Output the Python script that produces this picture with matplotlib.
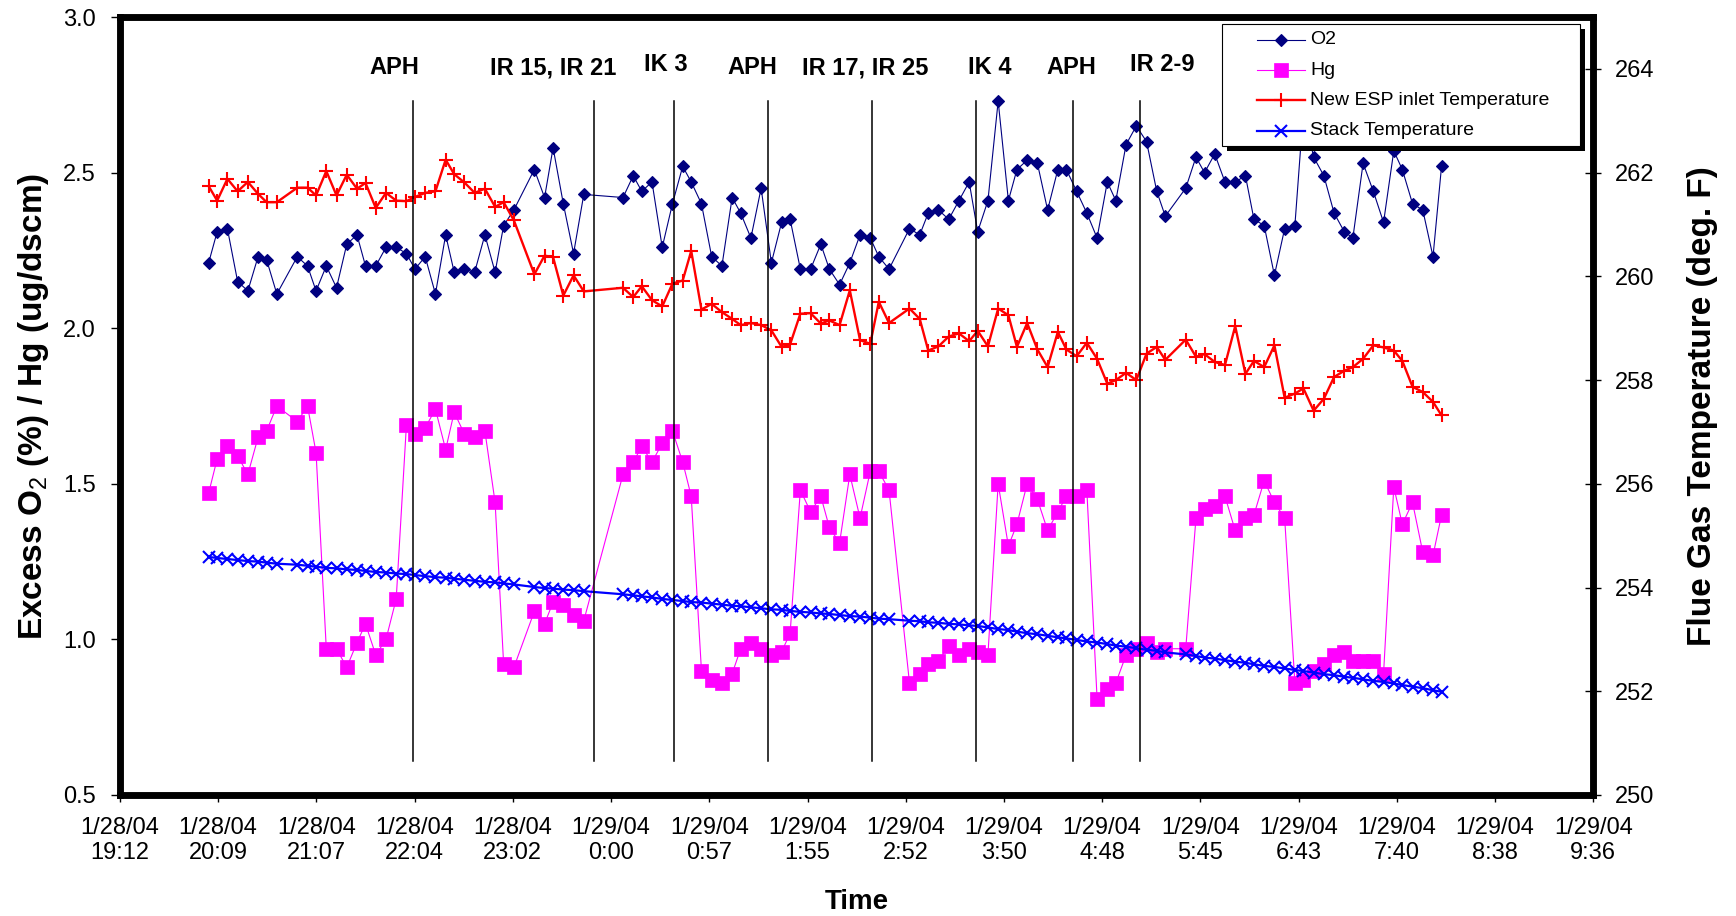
import matplotlib
matplotlib.use("Agg")
import matplotlib.pyplot as plt
from matplotlib.lines import Line2D
from matplotlib.patches import Rectangle
import pandas as pd
from datetime import datetime

plt.rcParams["font.family"] = ["Liberation Sans", "DejaVu Sans"]
plt.rcParams["mathtext.fontset"] = "custom"
plt.rcParams["mathtext.rm"] = "Liberation Sans"

# sample clock times (evening = 1/28/04, after midnight = 1/29/04)
sample_times = [
    "20:04", "20:09", "20:15", "20:21", "20:27", "20:33", "20:38", "20:44",
    "20:56", "21:02", "21:07", "21:13", "21:19", "21:25", "21:31", "21:36",
    "21:42", "21:48", "21:54", "22:00", "22:05", "22:11", "22:17", "22:23",
    "22:28", "22:34", "22:40", "22:46", "22:52", "22:57", "23:03",
    "23:15", "23:21", "23:26", "23:32", "23:38", "23:44",
    "0:07", "0:13", "0:18", "0:24", "0:30", "0:36", "0:42", "0:47", "0:53",
    "0:59", "1:05", "1:11", "1:16", "1:22", "1:28", "1:34", "1:40", "1:45",
    "1:51", "1:57", "2:03", "2:08", "2:14", "2:20", "2:26", "2:32", "2:37",
    "2:43",
    "2:55", "3:01", "3:06", "3:12", "3:18", "3:24", "3:30", "3:35", "3:41",
    "3:47", "3:53", "3:58", "4:04", "4:10", "4:16", "4:22", "4:27", "4:33",
    "4:39", "4:45", "4:51", "4:56", "5:02", "5:08", "5:14", "5:20", "5:25",
    "5:37", "5:43", "5:48", "5:54", "6:00", "6:06", "6:12", "6:17", "6:23",
    "6:29", "6:35", "6:41", "6:46", "6:52", "6:58", "7:04", "7:10", "7:15",
    "7:21", "7:27", "7:33", "7:39", "7:44", "7:50", "7:56", "8:02", "8:07",
]

o2 = [
    2.21, 2.31, 2.32, 2.15, 2.12, 2.23, 2.22, 2.11,
    2.23, 2.20, 2.12, 2.20, 2.13, 2.27, 2.30, 2.20, 2.20, 2.26, 2.26, 2.24,
    2.19, 2.23, 2.11, 2.30, 2.18, 2.19, 2.18, 2.30, 2.18, 2.33, 2.38,
    2.51, 2.42, 2.58, 2.40, 2.24, 2.43,
    2.42, 2.49, 2.44, 2.47, 2.26, 2.40, 2.52, 2.47, 2.40, 2.23, 2.20, 2.42,
    2.37, 2.29, 2.45, 2.21, 2.34, 2.35, 2.19, 2.19, 2.27, 2.19, 2.14, 2.21,
    2.30, 2.29, 2.23, 2.19,
    2.32, 2.30, 2.37, 2.38, 2.35, 2.41, 2.47, 2.31, 2.41, 2.73, 2.41, 2.51,
    2.54, 2.53, 2.38, 2.51, 2.51, 2.44, 2.37, 2.29, 2.47, 2.41, 2.59, 2.65,
    2.60, 2.44, 2.36,
    2.45, 2.55, 2.50, 2.56, 2.47, 2.47, 2.49, 2.35, 2.33, 2.17, 2.32, 2.33,
    2.70, 2.55, 2.49, 2.37, 2.31, 2.29, 2.53, 2.44, 2.34, 2.57, 2.51, 2.40,
    2.38, 2.23, 2.52,
]

hg = [
    1.47, 1.58, 1.62, 1.59, 1.53, 1.65, 1.67, 1.75,
    1.70, 1.75, 1.60, 0.97, 0.97, 0.91, 0.99, 1.05, 0.95, 1.00, 1.13, 1.69,
    1.66, 1.68, 1.74, 1.61, 1.73, 1.66, 1.65, 1.67, 1.44, 0.92, 0.91,
    1.09, 1.05, 1.12, 1.11, 1.08, 1.06,
    1.53, 1.57, 1.62, 1.57, 1.63, 1.67, 1.57, 1.46, 0.90, 0.87, 0.86, 0.89,
    0.97, 0.99, 0.97, 0.95, 0.96, 1.02, 1.48, 1.41, 1.46, 1.36, 1.31, 1.53,
    1.39, 1.54, 1.54, 1.48,
    0.86, 0.89, 0.92, 0.93, 0.98, 0.95, 0.97, 0.96, 0.95, 1.50, 1.30, 1.37,
    1.50, 1.45, 1.35, 1.41, 1.46, 1.46, 1.48, 0.81, 0.84, 0.86, 0.95, 0.97,
    0.99, 0.96, 0.97,
    0.97, 1.39, 1.42, 1.43, 1.46, 1.35, 1.39, 1.40, 1.51, 1.44, 1.39, 0.86,
    0.87, 0.90, 0.92, 0.95, 0.96, 0.93, 0.93, 0.93, 0.89, 1.49, 1.37, 1.44,
    1.28, 1.27, 1.40,
]

esp_temp = [
    261.74, 261.46, 261.88, 261.64, 261.82, 261.59, 261.43, 261.43,
    261.71, 261.71, 261.56, 262.03, 261.56, 261.96, 261.69, 261.80, 261.32,
    261.61, 261.46, 261.45, 261.53, 261.61, 261.64, 262.25, 261.97, 261.81,
    261.61, 261.69, 261.34, 261.43, 261.08,
    260.04, 260.40, 260.37, 259.63, 260.02, 259.71,
    259.78, 259.60, 259.81, 259.54, 259.42, 259.86, 259.92, 260.49, 259.36,
    259.47, 259.31, 259.18, 259.06, 259.10, 259.06, 258.96, 258.64, 258.69,
    259.28, 259.29, 259.09, 259.15, 259.06, 259.73, 258.77, 258.70, 259.51,
    259.10,
    259.38, 259.18, 258.57, 258.65, 258.84, 258.90, 258.75, 258.95, 258.65,
    259.38, 259.25, 258.64, 259.10, 258.59, 258.25, 258.93, 258.59, 258.46,
    258.72, 258.41, 257.93, 258.00, 258.14, 258.00, 258.51, 258.64, 258.39,
    258.78, 258.45, 258.50, 258.35, 258.29, 259.04, 258.12, 258.37, 258.25,
    258.67, 257.66, 257.74, 257.84, 257.41, 257.64, 258.06, 258.18, 258.25,
    258.41, 258.67, 258.63, 258.57, 258.37, 257.87, 257.77, 257.58, 257.32,
]

stack_temp = [
    254.59, 254.57, 254.55, 254.53, 254.51, 254.50, 254.48, 254.46,
    254.44, 254.42, 254.40, 254.38, 254.37, 254.35, 254.34, 254.32, 254.30,
    254.29, 254.27, 254.26, 254.24, 254.22, 254.20, 254.19, 254.17, 254.15,
    254.13, 254.11, 254.10, 254.08, 254.06,
    254.01, 253.99, 253.98, 253.96, 253.95, 253.93,
    253.87, 253.85, 253.83, 253.81, 253.78, 253.76, 253.74, 253.72, 253.71,
    253.69, 253.67, 253.65, 253.64, 253.62, 253.60, 253.58, 253.57, 253.55,
    253.53, 253.52, 253.50, 253.49, 253.47, 253.45, 253.44, 253.42, 253.40,
    253.39,
    253.36, 253.35, 253.33, 253.32, 253.30, 253.29, 253.27, 253.26, 253.23,
    253.20, 253.18, 253.15, 253.12, 253.10, 253.07, 253.04, 253.02, 252.99,
    252.96, 252.94, 252.91, 252.88, 252.86, 252.83, 252.80, 252.78, 252.75,
    252.71, 252.68, 252.65, 252.63, 252.60, 252.57, 252.55, 252.52, 252.49,
    252.47, 252.44, 252.41, 252.39, 252.36, 252.33, 252.31, 252.28, 252.26,
    252.23, 252.20, 252.18, 252.15, 252.12, 252.09, 252.06, 252.02, 251.99,
]

# events marked on the chart
event_times = ["22:04", "23:50", "0:37", "1:32", "2:33", "3:34", "4:31", "5:10"]
event_labels = ["APH", "IR 15, IR 21", "IK 3", "APH", "IR 17, IR 25", "IK 4",
                "APH", "IR 2-9"]
label_times = ["21:53", "23:26", "0:32", "1:23", "2:29", "3:42", "4:30", "5:23"]
label_y = [0.935, 0.935, 0.939, 0.935, 0.935, 0.935, 0.935, 0.939]

x_labels = ["1/28/04\n19:12", "1/28/04\n20:09", "1/28/04\n21:07", "1/28/04\n22:04",
            "1/28/04\n23:02", "1/29/04\n0:00", "1/29/04\n0:57", "1/29/04\n1:55",
            "1/29/04\n2:52", "1/29/04\n3:50", "1/29/04\n4:48", "1/29/04\n5:45",
            "1/29/04\n6:43", "1/29/04\n7:40", "1/29/04\n8:38", "1/29/04\n9:36"]


def to_dt(hhmm):
    h, m = map(int, hhmm.split(":"))
    day = 28 if h >= 12 else 29
    return datetime(2004, 1, day, h, m)


t = [to_dt(s) for s in sample_times]

o2_style = dict(color="#000080", lw=0.8, marker="D", ms=6.5, mew=0.8)
hg_style = dict(color="#FF00FF", lw=0.8, marker="s", ms=9.5, mew=0.5)
esp_style = dict(color="#FF0000", lw=1.7, marker="+", ms=9.5, mew=1.5)
stack_style = dict(color="#0000FF", lw=1.6, marker="x", ms=8.5, mew=1.5)

W, H = 1736, 916
fig = plt.figure(figsize=(W / 100, H / 100), dpi=100)
ax = fig.add_axes([0.0691, 0.1321, 0.8487, 0.8493])
ax2 = ax.twinx()

ax.plot(t, o2, **o2_style)
ax.plot(t, hg, **hg_style)
ax2.plot(t, esp_temp, **esp_style)
ax2.plot(t, stack_temp, **stack_style)

ax.set_ylim(0.5, 3.0)
ax.set_yticks([0.5, 1.0, 1.5, 2.0, 2.5, 3.0])
ax.set_yticklabels(["0.5", "1.0", "1.5", "2.0", "2.5", "3.0"])
ax2.set_ylim(250, 265)
ax2.set_yticks(range(250, 265, 2))

x_ticks = pd.date_range("2004-01-28 19:12", "2004-01-29 09:36", periods=16)
ax.set_xlim(x_ticks[0], x_ticks[-1])
ax.set_xticks(x_ticks)
ax.set_xticklabels(x_labels)

for a in (ax, ax2):
    for sp in a.spines.values():
        sp.set_linewidth(4.7)
ax.tick_params(axis="y", direction="out", length=6.8, width=1, labelsize=17, pad=10.5)
ax.tick_params(axis="x", direction="out", length=5.3, width=1, labelsize=17, pad=10.5)
ax2.tick_params(axis="y", direction="inout", length=12, width=1, labelsize=17, pad=9.5)

ax.set_ylabel(r"Excess O$_\mathrm{2}$ (%) / Hg (ug/dscm)", fontsize=24,
              fontweight="bold", va="center")
ax.yaxis.set_label_coords(-0.059, 0.5)
ax2.set_ylabel("Flue Gas Temperature (deg. F)", fontsize=24, fontweight="bold",
               va="center", rotation=90)
ax2.yaxis.set_label_coords(1.0738, 0.5)
ax.set_xlabel("Time", fontsize=20, fontweight="bold", va="center")
ax.xaxis.set_label_coords(0.5, -0.1375)

for et in event_times:
    ax2.axvline(to_dt(et), ymin=0.044, ymax=0.892, color="black", lw=1.1)
for lt, lab, ly in zip(label_times, event_labels, label_y):
    ax2.text(to_dt(lt), ly, lab, transform=ax2.get_xaxis_transform(),
             ha="center", va="center", fontsize=17, fontweight="bold")

# legend box with a hard black shadow, as in the original sheet
def fx(px):
    return px / W


def fy(py):
    return 1 - py / H


bx0, bx1, by0, by1 = 1222, 1580, 24, 146
fig.add_artist(Rectangle((fx(bx0 + 5), fy(by1 + 5)), (bx1 - bx0) / W, (by1 - by0) / H,
                         transform=fig.transFigure, facecolor="black",
                         edgecolor="none", zorder=10))
fig.add_artist(Rectangle((fx(bx0), fy(by1)), (bx1 - bx0) / W, (by1 - by0) / H,
                         transform=fig.transFigure, facecolor="white",
                         edgecolor="black", lw=0.8, zorder=11))
legend_names = ["O2", "Hg", "New ESP inlet Temperature", "Stack Temperature"]
legend_styles = [o2_style, hg_style, esp_style, stack_style]
for i, (name, st) in enumerate(zip(legend_names, legend_styles)):
    yy = fy(40 + 30.2 * i)
    fig.add_artist(Line2D([fx(1257), fx(1281), fx(1305)], [yy, yy, yy],
                          transform=fig.transFigure, markevery=[1], zorder=12, **st))
    fig.text(fx(1310), yy, name, fontsize=14, va="center", ha="left", zorder=12)

fig.savefig("out.png", dpi=100)
